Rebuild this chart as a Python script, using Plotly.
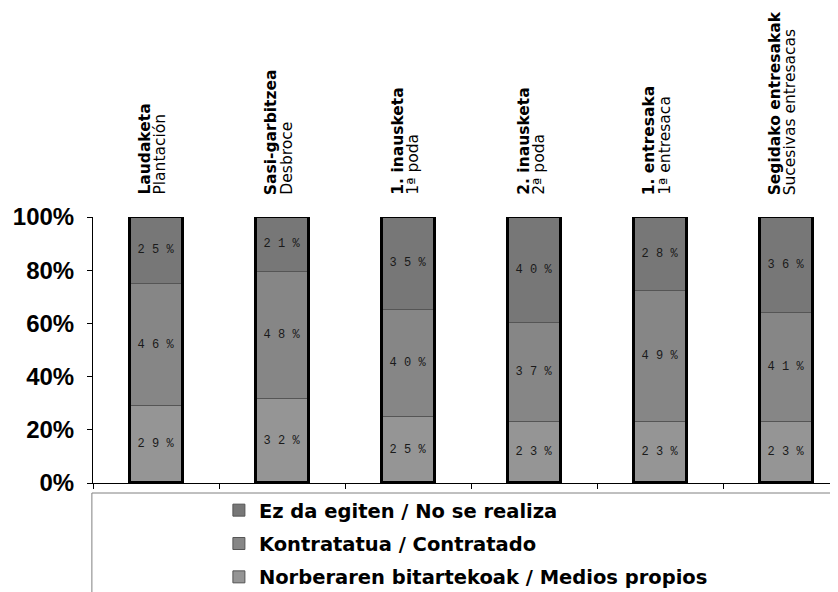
import plotly.graph_objects as go

# ---- data ----
categories_eu = ["Laudaketa", "Sasi-garbitzea", "1. inausketa", "2. inausketa",
                 "1. entresaka", "Segidako entresakak"]
categories_es = ["Plantación", "Desbroce", "1ª poda", "2ª poda",
                 "1ª entresaca", "Sucesivas entresacas"]
propios = [29, 32, 25, 23, 23, 23]          # Norberaren bitartekoak / Medios propios
contratado = [46, 48, 40, 37, 49, 41]       # Kontratatua / Contratado
no_realiza = [25, 21, 35, 40, 28, 36]       # Ez da egiten / No se realiza
series_names = ["Norberaren bitartekoak / Medios propios",
                "Kontratatua / Contratado",
                "Ez da egiten / No se realiza"]
y_tickvals = [0, 20, 40, 60, 80, 100]
y_ticktext = ["0%", "20%", "40%", "60%", "80%", "100%"]

# ---- styling ----
colors = ["#959595", "#868686", "#777777"]
ranks = [3, 2, 1]
BAR_W = 0.42

series = [propios, contratado, no_realiza]
totals = [sum(v) for v in zip(*series)]
shares = [[v / t * 100 for v, t in zip(s, totals)] for s in series]

fig = go.Figure()
base = [0.0] * len(categories_eu)
for name, raw, sh, col, rk in zip(series_names, series, shares, colors, ranks):
    fig.add_trace(go.Bar(
        x=categories_eu, y=sh, base=base, name=name, width=BAR_W,
        marker=dict(color=col, line=dict(color="#555555", width=1)),
        text=[" ".join(f"{v}%") for v in raw],
        textposition="inside", insidetextanchor="middle", textangle=0,
        textfont=dict(family="Liberation Mono", size=12, color="#1a1a1a"),
        legendrank=rk, legendgroup=name, hoverinfo="skip",
    ))
    base = [b + s for b, s in zip(base, sh)]

# outline of full stacks (thick black sides)
fig.add_trace(go.Bar(
    x=categories_eu, y=base, base=[0] * len(base), width=BAR_W,
    marker=dict(color="rgba(0,0,0,0)", line=dict(color="black", width=3)),
    showlegend=False, hoverinfo="skip",
))

# category labels (rotated, two lines)
for eu, es in zip(categories_eu, categories_es):
    fig.add_annotation(x=eu, xref="x", y=1.075, yref="paper", text=f"<b>{eu}</b>",
                       textangle=-90, xanchor="center", yanchor="bottom",
                       xshift=-11, showarrow=False,
                       font=dict(family="DejaVu Sans", size=15.5, color="black"))
    fig.add_annotation(x=eu, xref="x", y=1.075, yref="paper", text=es,
                       textangle=-90, xanchor="center", yanchor="bottom",
                       xshift=4, showarrow=False,
                       font=dict(family="DejaVu Sans", size=15.5, color="black"))

# legend frame
fig.add_shape(type="rect", xref="paper", yref="paper", x0=-0.0015, x1=1.3,
              y0=-0.0376, y1=-1.0, line=dict(color="#808080", width=1),
              fillcolor="white", layer="below")

fig.update_layout(
    width=838, height=592,
    margin=dict(l=85, r=8, t=209, b=117, pad=0, autoexpand=False),
    paper_bgcolor="white", plot_bgcolor="white",
    barmode="overlay", bargap=0,
    showlegend=True,
    legend=dict(x=0.169, y=-0.030, xanchor="left", yanchor="top",
                font=dict(family="DejaVu Sans", size=19.5, color="black", weight="bold"),
                bgcolor="rgba(0,0,0,0)", tracegroupgap=5, itemwidth=30),
    xaxis=dict(type="category", range=[-0.5, 5.41], showline=True, linecolor="black",
               linewidth=1, ticks="outside", tickson="boundaries", ticklen=5,
               tickcolor="black", showticklabels=False, showgrid=False, zeroline=False,
               fixedrange=True),
    yaxis=dict(range=[0, 100], tickvals=y_tickvals, ticktext=y_ticktext,
               showline=True, linecolor="black", linewidth=1, ticks="outside",
               ticklen=5, tickcolor="black", showgrid=False, zeroline=False,
               ticklabelstandoff=8,
               tickfont=dict(family="Liberation Sans", size=24, color="black", weight="bold")),
)

fig.write_html("out.html")
